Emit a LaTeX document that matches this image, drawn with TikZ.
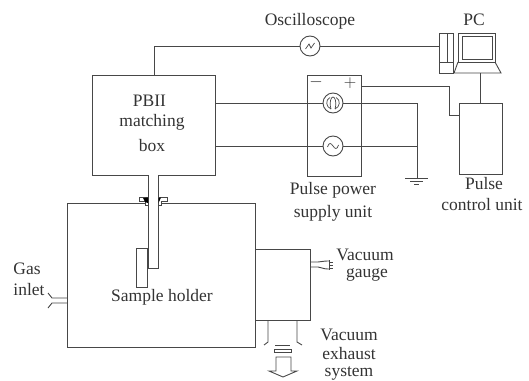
\documentclass[tikz,border=0pt]{standalone}
\usepackage{fontspec}
\setmainfont{Liberation Serif}
\tikzset{
	unitbox/.style={draw,rectangle,inner sep=0pt,outer sep=0pt},
	meter/.style={draw,circle,fill=white,minimum size=20pt,inner sep=0pt,outer sep=0pt},
	lbl/.style={inner sep=0pt,text=black!80,font=\fontsize{17.5}{19}\selectfont}
}
\begin{document}
\begin{tikzpicture}[x=1pt,y=-1pt,line width=0.9pt,color=black!72]
	\useasboundingbox (0,0) rectangle (529,380);
	% boxes
	\node[unitbox,minimum width=123pt,minimum height=100pt] (matchbox) at (153.5,125) {};
	\node[unitbox,minimum width=54pt,minimum height=101pt] (powerbox) at (334,125.5) {};
	\node[unitbox,minimum width=43pt,minimum height=71pt] (controlbox) at (480.5,138.5) {};
	\node[unitbox,minimum width=188pt,minimum height=144pt] (chamber) at (161,275) {};
	\node[unitbox,minimum width=55pt,minimum height=71pt] (pumpbox) at (282.5,284.5) {};
	\node[unitbox,minimum width=11pt,minimum height=39pt] (sample) at (141.5,267.5) {};
	% PC
	\node[unitbox,minimum width=14pt,minimum height=40pt] (tower) at (446,53) {};
	\node[unitbox,minimum width=37pt,minimum height=29pt] (monitor) at (476.5,47.5) {};
	\node[unitbox,minimum width=30pt,minimum height=23pt] (screen) at (477,47.5) {};
	\coordinate (kbd) at (480,73);
	\draw (tower.north)++(1,0) -- ++(0,29) coordinate (towermid);
	\draw (tower.west |- towermid) -- (tower.east |- towermid);
	\draw (monitor.south west) -- (454,73) -- (501,73) -- (monitor.south east);
	% meters
	\node[meter] (scope) at (310,46) {};
	\node[meter] (coil) at (333,103) {};
	\node[meter] (source) at (333,146) {};
	\draw[line width=0.7pt] (305.5,49) -- (309,44) -- (311,48) -- (314.5,43);
	\draw[line width=0.7pt] (327.5,147) .. controls (329,142) and (331,143) .. (333,146) .. controls (335,149) and (337,150) .. (338.5,145);
	\draw[line width=0.7pt] (330,97.5) .. controls (325,100) and (326,107) .. (331,109);
	\draw[line width=0.7pt] (336,97.5) .. controls (341,100) and (340,107) .. (335,109);
	\draw[line width=0.7pt] (331,109) .. controls (329,102) and (331,97) .. (333,97) .. controls (335,97) and (337,102) .. (335,109);
	% wiring
	\coordinate (scopetap) at (154,75);
	\draw (scopetap) |- (scope.west);
	\draw (scope.east) -- (tower.west |- scope);
	\draw (matchbox.east |- coil) -- (coil.west);
	\draw (matchbox.east |- source) -- (source.west);
	\coordinate (groundtop) at (417,103);
	\coordinate (groundend) at (417,178);
	\draw (coil.east) -- (groundtop) -- (groundend);
	\draw (source.east) -- (groundtop |- source);
	\draw (powerbox.east |- 0,86) -- (449,86) -- (449,115) -- (controlbox.west |- 0,115);
	\draw (kbd) -- (kbd |- controlbox.north);
	% ground
	\draw (405,178) -- (428,178);
	\draw (410,181) -- (423,181);
	\draw (414,184) -- (419,184);
	% tube and seals
	\draw[fill=white] (148.5,175) -- (148.5,268) -- (158,268) -- (158,175);
	\draw[line width=0.6pt,fill=white] (139,197) -- (148,197) -- (148,205) -- (145,205) -- (145,201) -- (139,201) -- cycle;
	\fill[black] (143,198) -- (148,197.5) -- (148,203) -- (145,202) -- cycle;
	\draw[line width=0.6pt,fill=white] (167,197) -- (158.5,197) -- (158.5,205) -- (161,205) -- (161,201) -- (167,201) -- cycle;
	\fill[black] (158.5,198) -- (161,197.5) -- (158.5,203) -- cycle;
	% gas inlet
	\draw (chamber.west |- 0,298) -- (52,298) -- (48,293);
	\draw (chamber.west |- 0,303) -- (52,303) -- (48,308);
	% vacuum gauge
	\draw (pumpbox.east |- 0,262) -- (318,262) .. controls (321,262) and (322,261) .. (329,261);
	\draw (pumpbox.east |- 0,267) -- (318,267) .. controls (321,267) and (322,269) .. (329,269);
	\draw (329,260) -- (329,270);
	\draw[line width=0.6pt] (329,262) -- (333,262) (329,265) -- (333,265) (329,268) -- (333,268);
	% exhaust
	\draw (268,320) -- (268,342) -- (264,345);
	\draw (297,320) -- (297,342) -- (302,345);
	\draw (275,345) -- (290,345);
	\draw (274,349) rectangle (291,352);
	\draw (276,371) -- (276,357) -- (291,357) -- (291,371) -- (297,371) -- (283,377) -- (269,371) -- cycle;
	% labels
	\node[lbl] (scopelabel) at (310,21) {Oscilloscope};
	\node[lbl] (pclabel) at (474,20) {PC};
	\node[lbl] (matchlabela) at (149.5,101) {PBII};
	\node[lbl] (matchlabelb) at (152,122) {matching};
	\node[lbl] (matchlabelc) at (152,146) {box};
	\node[lbl] (minuslabel) at (316,82) {$-$};
	\node[lbl] (pluslabel) at (350,83) {$+$};
	\node[lbl] (powerlabela) at (333,190) {Pulse power};
	\node[lbl] (powerlabelb) at (333,213) {supply unit};
	\node[lbl] (controllabela) at (484,184) {Pulse};
	\node[lbl] (controllabelb) at (482,205) {control unit};
	\node[lbl] (holderlabel) at (162,297) {Sample holder};
	\node[lbl,anchor=west] (gaslabela) at (13,269) {Gas};
	\node[lbl,anchor=west] (gaslabelb) at (13,290) {inlet};
	\node[lbl] (gaugelabela) at (365,255) {Vacuum};
	\node[lbl] (gaugelabelb) at (367,275) {gauge};
	\node[lbl] (exhaustlabela) at (349,335) {Vacuum};
	\node[lbl] (exhaustlabelb) at (349,354) {exhaust};
	\node[lbl] (exhaustlabelc) at (349,373) {system};
\end{tikzpicture}
\end{document}
